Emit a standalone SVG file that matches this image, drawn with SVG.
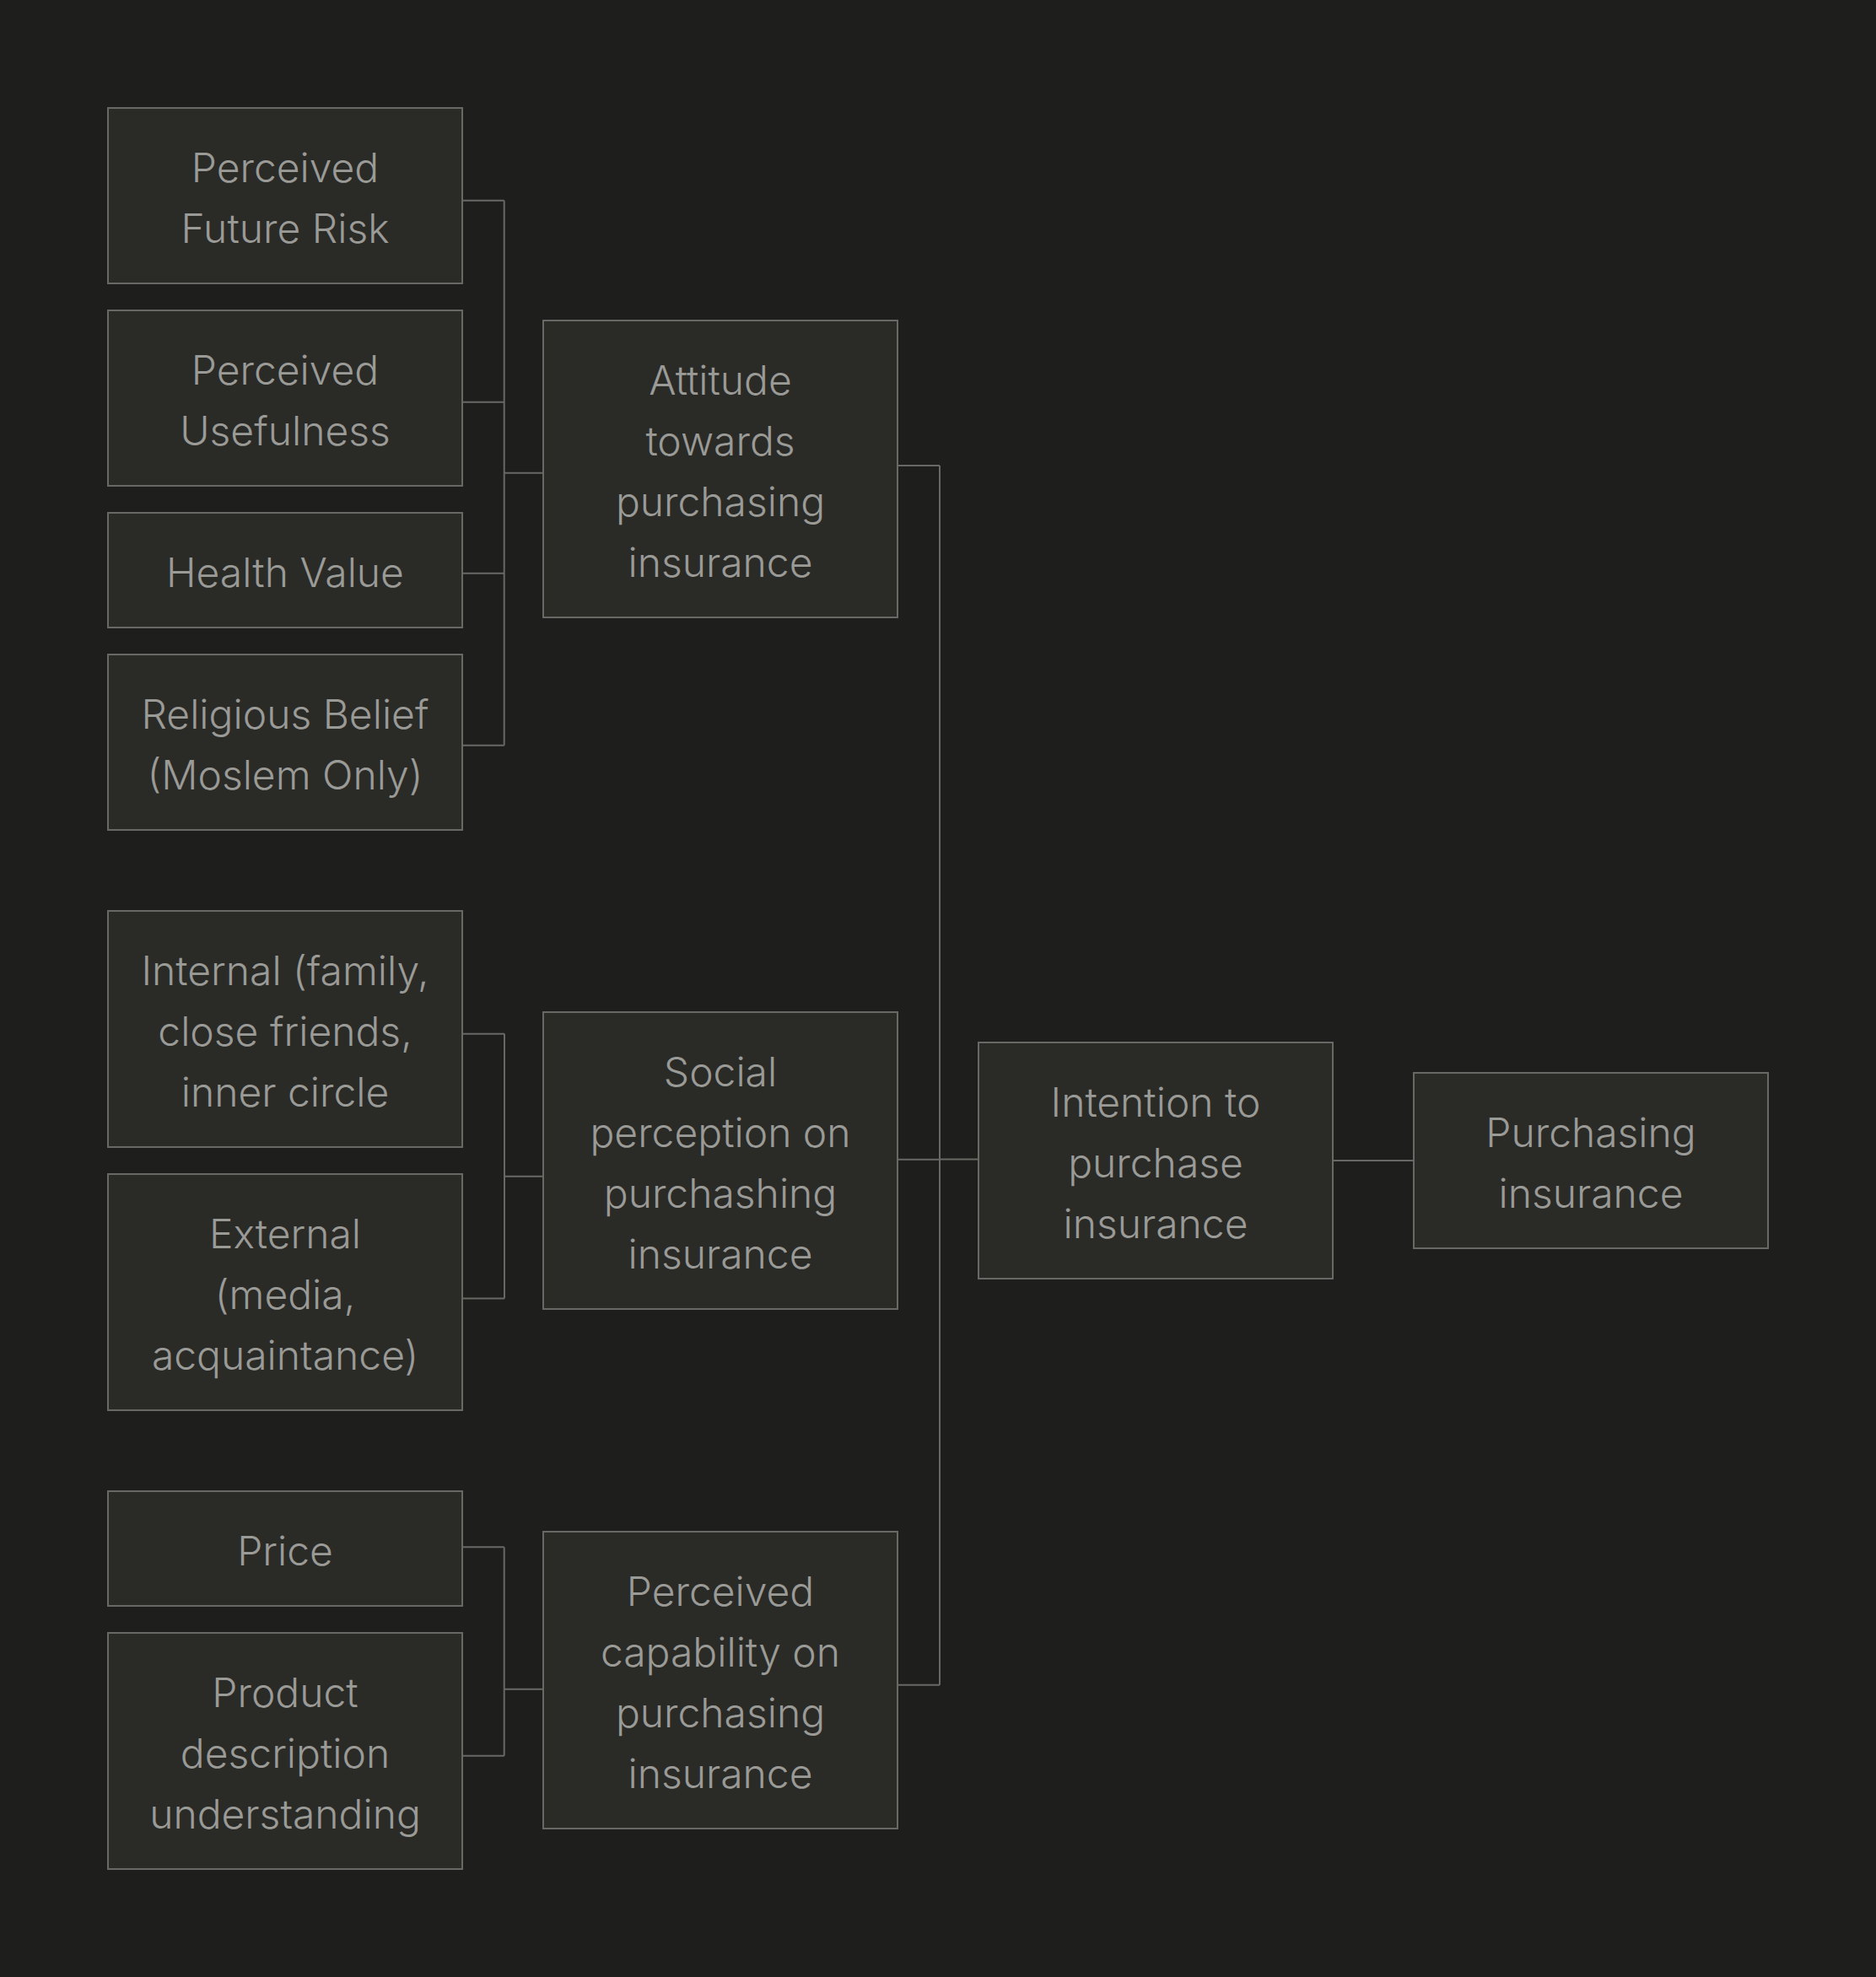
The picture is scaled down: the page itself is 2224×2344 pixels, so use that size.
<svg xmlns="http://www.w3.org/2000/svg" width="2224" height="2344" viewBox="0 0 2224 2344">
<style>
.bg{fill:#1e1e1c}
.node rect{fill:#2a2a27;stroke:#686865;stroke-width:2}
.node text{font-family:Inter,"Open Sans","Liberation Sans",sans-serif;font-size:48px;font-weight:300;fill:#9a9a97;text-anchor:middle}
.conn path{fill:none;stroke:#686865;stroke-width:2}
</style>
<rect class="bg" x="0" y="0" width="2224" height="2344"/>
<g class="conn">
<path d="M548 237.7H597.7M548 476.7H597.7M548 679.7H597.7M548 883.7H597.7M597.7 237.7V883.7M597.7 560.7H644"/>
<path d="M548 1225.7H598M548 1539.6H598M598 1225.7V1539.6M598 1394.7H644"/>
<path d="M548 1834.3H597.7M548 2081.7H597.7M597.7 1834.3V2081.7M597.7 2002.7H644"/>
<path d="M1064 552H1114M1064 1374.7H1114M1064 1997.7H1114M1114 552V1997.7M1114 1374.5H1160"/>
<path d="M1580 1376H1676"/>
</g>
<g id="n-future-risk" class="node"><rect x="128" y="128" width="420" height="208"/><text><tspan x="338" y="215.5">Perceived</tspan><tspan x="338" y="287.5">Future Risk</tspan></text></g>
<g id="n-usefulness" class="node"><rect x="128" y="368" width="420" height="208"/><text><tspan x="338" y="455.5">Perceived</tspan><tspan x="338" y="527.5">Usefulness</tspan></text></g>
<g id="n-health" class="node"><rect x="128" y="608" width="420" height="136"/><text><tspan x="338" y="695.5">Health Value</tspan></text></g>
<g id="n-religious" class="node"><rect x="128" y="776" width="420" height="208"/><text><tspan x="338" y="863.5">Religious Belief</tspan><tspan x="338" y="935.5">(Moslem Only)</tspan></text></g>
<g id="n-internal" class="node"><rect x="128" y="1080" width="420" height="280"/><text><tspan x="338" y="1167.5">Internal (family,</tspan><tspan x="338" y="1239.5">close friends,</tspan><tspan x="338" y="1311.5">inner circle</tspan></text></g>
<g id="n-external" class="node"><rect x="128" y="1392" width="420" height="280"/><text><tspan x="338" y="1479.5">External</tspan><tspan x="338" y="1551.5">(media,</tspan><tspan x="338" y="1623.5">acquaintance)</tspan></text></g>
<g id="n-price" class="node"><rect x="128" y="1768" width="420" height="136"/><text><tspan x="338" y="1855.5">Price</tspan></text></g>
<g id="n-product" class="node"><rect x="128" y="1936" width="420" height="280"/><text><tspan x="338" y="2023.5">Product</tspan><tspan x="338" y="2095.5">description</tspan><tspan x="338" y="2167.5">understanding</tspan></text></g>
<g id="n-attitude" class="node"><rect x="644" y="380" width="420" height="352"/><text><tspan x="854" y="467.5">Attitude</tspan><tspan x="854" y="539.5">towards</tspan><tspan x="854" y="611.5">purchasing</tspan><tspan x="854" y="683.5">insurance</tspan></text></g>
<g id="n-social" class="node"><rect x="644" y="1200" width="420" height="352"/><text><tspan x="854" y="1287.5">Social</tspan><tspan x="854" y="1359.5">perception on</tspan><tspan x="854" y="1431.5">purchashing</tspan><tspan x="854" y="1503.5">insurance</tspan></text></g>
<g id="n-capability" class="node"><rect x="644" y="1816" width="420" height="352"/><text><tspan x="854" y="1903.5">Perceived</tspan><tspan x="854" y="1975.5">capability on</tspan><tspan x="854" y="2047.5">purchasing</tspan><tspan x="854" y="2119.5">insurance</tspan></text></g>
<g id="n-intention" class="node"><rect x="1160" y="1236" width="420" height="280"/><text><tspan x="1370" y="1323.5">Intention to</tspan><tspan x="1370" y="1395.5">purchase</tspan><tspan x="1370" y="1467.5">insurance</tspan></text></g>
<g id="n-purchasing" class="node"><rect x="1676" y="1272" width="420" height="208"/><text><tspan x="1886" y="1359.5">Purchasing</tspan><tspan x="1886" y="1431.5">insurance</tspan></text></g>
</svg>
